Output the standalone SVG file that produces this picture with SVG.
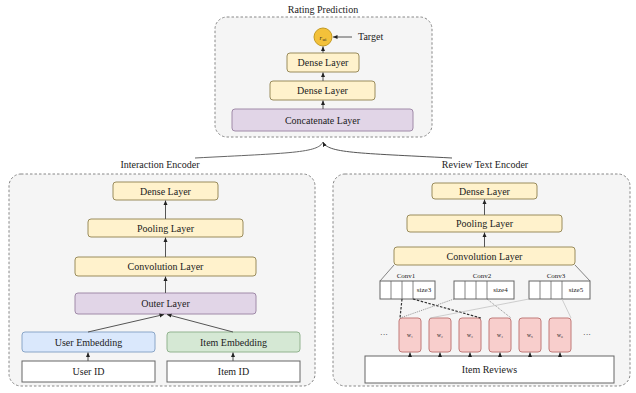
<svg xmlns="http://www.w3.org/2000/svg" width="636" height="393" viewBox="0 0 636 393">
<style>
text{font-family:"Liberation Serif","Times New Roman",serif;fill:#222;}
.t{font-size:10px;text-anchor:middle;dominant-baseline:central;}
.s{font-size:7px;text-anchor:middle;dominant-baseline:central;}
.w{font-size:5.5px;text-anchor:middle;dominant-baseline:central;}
.panel{fill:#f5f5f5;stroke:#888;stroke-width:1;stroke-dasharray:2.5 2;}
.y{fill:#fff2cc;stroke:#9a8c5c;stroke-width:1;}
.p{fill:#e1d5e7;stroke:#a08aa8;stroke-width:1;}
.b{fill:#dae8fc;stroke:#8aa6c8;stroke-width:1;}
.g{fill:#d5e8d4;stroke:#92b38f;stroke-width:1;}
.wh{fill:#fff;stroke:#666;stroke-width:1;}
.pk{fill:#f8cecc;stroke:#c07a78;stroke-width:1;}
.a{stroke:#555;stroke-width:1;fill:none;marker-end:url(#ah);}
.l{stroke:#666;stroke-width:0.8;fill:none;}
</style>
<defs>
<marker id="ah" markerWidth="5" markerHeight="5" refX="4.5" refY="2.5" orient="auto" markerUnits="userSpaceOnUse">
<path d="M0,0.5 L4.5,2.5 L0,4.5 z" fill="#222"/>
</marker>
</defs>
<rect width="636" height="393" fill="#fff"/>

<g id="panel-rating">
<rect class="panel" x="215" y="17" width="217" height="120" rx="12"/>
<text class="t" x="323" y="9">Rating Prediction</text>
</g>
<g id="panel-interaction">
<rect class="panel" x="9" y="174" width="306" height="212" rx="12"/>
<text class="t" x="160" y="164">Interaction Encoder</text>
</g>
<g id="panel-review">
<rect class="panel" x="333" y="174" width="297" height="212" rx="12"/>
<text class="t" x="485" y="164">Review Text Encoder</text>
</g>

<g id="target">
<circle cx="323" cy="37" r="9" fill="#f3c13a" stroke="#c49a20" stroke-width="1"/>
<text x="319.5" y="37" style="font-size:6.5px;font-style:italic;dominant-baseline:central">r</text>
<text x="322.5" y="39.5" style="font-size:5px;dominant-baseline:central">ui</text>
<text x="358" y="36" style="font-size:10px;dominant-baseline:central">Target</text>
</g>
<g id="dense-top1"><rect class="y" x="287" y="53" width="72" height="19" rx="3"/><text class="t" x="323" y="62.5">Dense Layer</text></g>
<g id="dense-top2"><rect class="y" x="270" y="81" width="105" height="19" rx="3"/><text class="t" x="322.5" y="90.5">Dense Layer</text></g>
<g id="concat"><rect class="p" x="232" y="109" width="181" height="22" rx="3"/><text class="t" x="322.5" y="120">Concatenate Layer</text></g>

<g id="ie-dense"><rect class="y" x="113" y="182" width="105" height="18" rx="3"/><text class="t" x="165.5" y="191">Dense Layer</text></g>
<g id="ie-pool"><rect class="y" x="88" y="219" width="155" height="18" rx="3"/><text class="t" x="165.5" y="228">Pooling Layer</text></g>
<g id="ie-conv"><rect class="y" x="75" y="257" width="181" height="19" rx="3"/><text class="t" x="165.5" y="266.5">Convolution Layer</text></g>
<g id="ie-outer"><rect class="p" x="75" y="293" width="181" height="21" rx="3"/><text class="t" x="165.5" y="303.5">Outer Layer</text></g>
<g id="user-emb"><rect class="b" x="22" y="332" width="133" height="20" rx="3"/><text class="t" x="88.5" y="342">User Embedding</text></g>
<g id="item-emb"><rect class="g" x="167" y="332" width="133" height="20" rx="3"/><text class="t" x="233.5" y="342">Item Embedding</text></g>
<g id="user-id"><rect class="wh" x="22" y="361" width="133" height="21"/><text class="t" x="88.5" y="371.5">User ID</text></g>
<g id="item-id"><rect class="wh" x="167" y="361" width="133" height="21"/><text class="t" x="233.5" y="371.5">Item ID</text></g>

<g id="rt-dense"><rect class="y" x="432" y="183" width="105" height="16" rx="3"/><text class="t" x="484.5" y="191">Dense Layer</text></g>
<g id="rt-pool"><rect class="y" x="407" y="215" width="155" height="17" rx="3"/><text class="t" x="484.5" y="223.5">Pooling Layer</text></g>
<g id="rt-conv"><rect class="y" x="394" y="247" width="181" height="18" rx="3"/><text class="t" x="484.5" y="256">Convolution Layer</text></g>

<g id="conv1">
<text class="s" x="406" y="276">Conv1</text>
<rect class="wh" x="380" y="281" width="55" height="18" stroke-width="0.8"/>
<path class="l" d="M391 281V299M402 281V299M413 281V299"/>
<text class="s" x="424" y="290">size3</text>
</g>
<g id="conv2">
<text class="s" x="482" y="276">Conv2</text>
<rect class="wh" x="454" y="281" width="60" height="18" stroke-width="0.8"/>
<path class="l" d="M465 281V299M476 281V299M487 281V299"/>
<text class="s" x="500.5" y="290">size4</text>
</g>
<g id="conv3">
<text class="s" x="556" y="276">Conv3</text>
<rect class="wh" x="529" y="281" width="61" height="18" stroke-width="0.8"/>
<path class="l" d="M540 281V299M551 281V299M562 281V299"/>
<text class="s" x="576" y="290">size5</text>
</g>

<g id="words">
<rect class="pk" x="399" y="318" width="22" height="34" rx="3"/><text class="w" x="410" y="335">w₁</text>
<rect class="pk" x="429" y="318" width="22" height="34" rx="3"/><text class="w" x="440" y="335">w₂</text>
<rect class="pk" x="459" y="318" width="22" height="34" rx="3"/><text class="w" x="470" y="335">w₃</text>
<rect class="pk" x="489" y="318" width="22" height="34" rx="3"/><text class="w" x="500" y="335">w₄</text>
<rect class="pk" x="519" y="318" width="22" height="34" rx="3"/><text class="w" x="530" y="335">w₅</text>
<rect class="pk" x="549" y="318" width="22" height="34" rx="3"/><text class="w" x="560" y="335">w₆</text>
<text class="t" x="384" y="334" style="font-size:8px">···</text>
<text class="t" x="587" y="334" style="font-size:8px">···</text>
</g>
<g id="item-reviews"><rect class="wh" x="365" y="356" width="249" height="27"/><text class="t" x="489.5" y="369.5">Item Reviews</text></g>

<g id="connectors">
<path class="a" d="M352 37H333"/>
<path class="a" d="M323 53V46.5"/>
<path class="a" d="M323 81V72.5"/>
<path class="a" d="M323 109V100.5"/>
<path d="M195 158C290 153 318 153 323 142" stroke="#666" stroke-width="1" fill="none"/>
<path class="a" d="M452 158C356 153 328 153 323 142" />
<path class="a" d="M165.5 219V200.5"/>
<path class="a" d="M165.5 257V237.5"/>
<path class="a" d="M165.5 293V276.5"/>
<path class="a" d="M88 332L164 314.5"/>
<path class="a" d="M233 332L167 314.5"/>
<path class="a" d="M88 361V352.5"/>
<path class="a" d="M233 361V352.5"/>
<path class="a" d="M484.5 215V199.5"/>
<path class="a" d="M484.5 247V232.5"/>
<path class="l" d="M394 265L380 281M575 265L590 281"/>
<path d="M402 299L400 318M413 299L481 318" stroke="#333" stroke-width="1.2" stroke-dasharray="2.5 1.5" fill="none"/>
<path d="M454 299L400 318" stroke="#777" stroke-width="0.8" stroke-dasharray="1 1" fill="none"/>
<path d="M487 299L511 318" stroke="#777" stroke-width="0.8" stroke-dasharray="1 1" fill="none"/>
<path d="M529 299L430 318M562 299L571 318" stroke="#bbb" stroke-width="0.7" fill="none"/>
<path class="a" d="M410 356V352.5"/>
<path class="a" d="M440 356V352.5"/>
<path class="a" d="M470 356V352.5"/>
<path class="a" d="M500 356V352.5"/>
<path class="a" d="M530 356V352.5"/>
<path class="a" d="M560 356V352.5"/>
</g>
</svg>
